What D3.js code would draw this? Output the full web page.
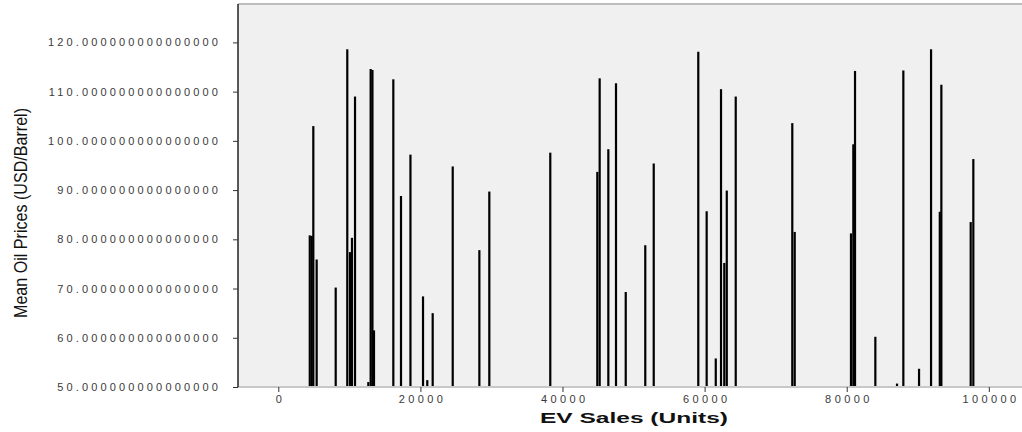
<!DOCTYPE html>
<html lang="en">
<head>
<meta charset="UTF-8">
<title>EV Sales vs Mean Oil Prices</title>
<script src="https://cdn.jsdelivr.net/npm/d3@7"></script>
<style>
  body { margin: 0; background: #fff; }
  svg { display: block; }
</style>
</head>
<body>
<svg width="1022" height="432"></svg>
<script>
// data
var evSales = [4430, 4700, 4930, 5400, 8080, 9710, 10090, 10370, 10800, 12670,
  13000, 13250, 13470, 16190, 17270, 18600, 20370, 20970, 21730, 24550,
  28300, 29700, 38280, 44900, 45230, 46450, 47530, 48900, 51650, 52840,
  59110, 60290, 61570, 62310, 62770, 63120, 64380, 72340, 72680, 80600,
  80930, 81170, 84030, 87080, 87970, 90180, 91870, 93100, 93320, 97450, 97820];
var meanOilPrice = [80.8, 80.7, 103.0, 75.9, 70.2, 118.6, 77.4, 80.3, 109.0, 51.0,
  114.6, 114.4, 61.5, 112.5, 88.8, 97.2, 68.4, 51.4, 65.0, 94.8,
  77.8, 89.7, 97.6, 93.7, 112.7, 98.3, 111.7, 69.3, 78.8, 95.4,
  118.1, 85.7, 55.8, 110.5, 75.2, 89.9, 109.0, 103.6, 81.5, 81.2,
  99.3, 114.2, 60.2, 50.7, 114.3, 53.7, 118.6, 85.6, 111.4, 83.5, 96.3];
var xTicks = [0, 20000, 40000, 60000, 80000, 100000];
var yTicks = [50, 60, 70, 80, 90, 100, 110, 120];

var svg = d3.select("svg");
var plot = { left: 238, top: 4, right: 1022, bottom: 387 };

var x = d3.scaleLinear().domain([-5670, 104670]).range([plot.left, plot.right]);
var y = d3.scaleLinear().domain([50, 127.8]).range([plot.bottom, plot.top]);

// plot background
svg.append("rect")
  .attr("x", plot.left).attr("y", plot.top)
  .attr("width", plot.right - plot.left).attr("height", plot.bottom - plot.top)
  .attr("fill", "#f0f0f0");

// top frame line
svg.append("line")
  .attr("x1", plot.left).attr("x2", plot.right)
  .attr("y1", plot.top).attr("y2", plot.top)
  .attr("stroke", "#bdbdbd").attr("stroke-width", 2);

// bars
var barW = 2.2;
svg.append("g").selectAll("rect")
  .data(evSales)
  .enter()
  .append("rect")
  .attr("x", function (d) { return x(d) - barW / 2; })
  .attr("y", function (d, i) { return y(meanOilPrice[i]); })
  .attr("width", barW)
  .attr("height", function (d, i) { return plot.bottom - y(meanOilPrice[i]); })
  .attr("fill", "#000");

// x axis
var xAxis = svg.append("g")
  .attr("transform", "translate(0," + plot.bottom + ")")
  .call(d3.axisBottom(x).tickValues(xTicks).tickSize(5).tickPadding(3).tickFormat(d3.format("d")));
xAxis.select(".domain").attr("stroke", "#c8c8c8").attr("stroke-width", 2)
  .attr("d", "M" + plot.left + ",0H" + plot.right);
xAxis.selectAll(".tick line").attr("stroke", "#333");
xAxis.selectAll("text")
  .attr("fill", "#3a3a3a")
  .style("font", "11px 'Liberation Sans', Arial, sans-serif")
  .style("letter-spacing", "3.4px")
  .attr("dx", "1.7px");

// y axis
var yAxis = svg.append("g")
  .attr("transform", "translate(" + plot.left + ",0)")
  .call(d3.axisLeft(y).tickValues(yTicks).tickSize(5).tickPadding(12)
    .tickFormat(function (d) { return d.toFixed(15); }));
yAxis.select(".domain").attr("stroke", "#222").attr("stroke-width", 1.5)
  .attr("d", "M0," + plot.top + "V" + plot.bottom);
yAxis.selectAll(".tick line").attr("stroke", "#333");
yAxis.selectAll("text")
  .attr("fill", "#3a3a3a")
  .style("font", "11px 'Liberation Sans', Arial, sans-serif")
  .style("letter-spacing", "3.15px");

// axis titles
svg.append("text")
  .attr("x", 634).attr("y", 423)
  .attr("text-anchor", "middle")
  .attr("textLength", 188).attr("lengthAdjust", "spacingAndGlyphs")
  .style("font", "bold 15px 'Liberation Sans', Arial, sans-serif")
  .attr("fill", "#111")
  .text("EV Sales (Units)");

svg.append("text")
  .attr("transform", "translate(27,213) rotate(-90)")
  .attr("text-anchor", "middle")
  .attr("textLength", 210).attr("lengthAdjust", "spacingAndGlyphs")
  .style("font", "18px 'Liberation Sans Narrow', 'Liberation Sans', Arial, sans-serif")
  .attr("fill", "#111")
  .text("Mean Oil Prices (USD/Barrel)");
</script>
</body>
</html>
